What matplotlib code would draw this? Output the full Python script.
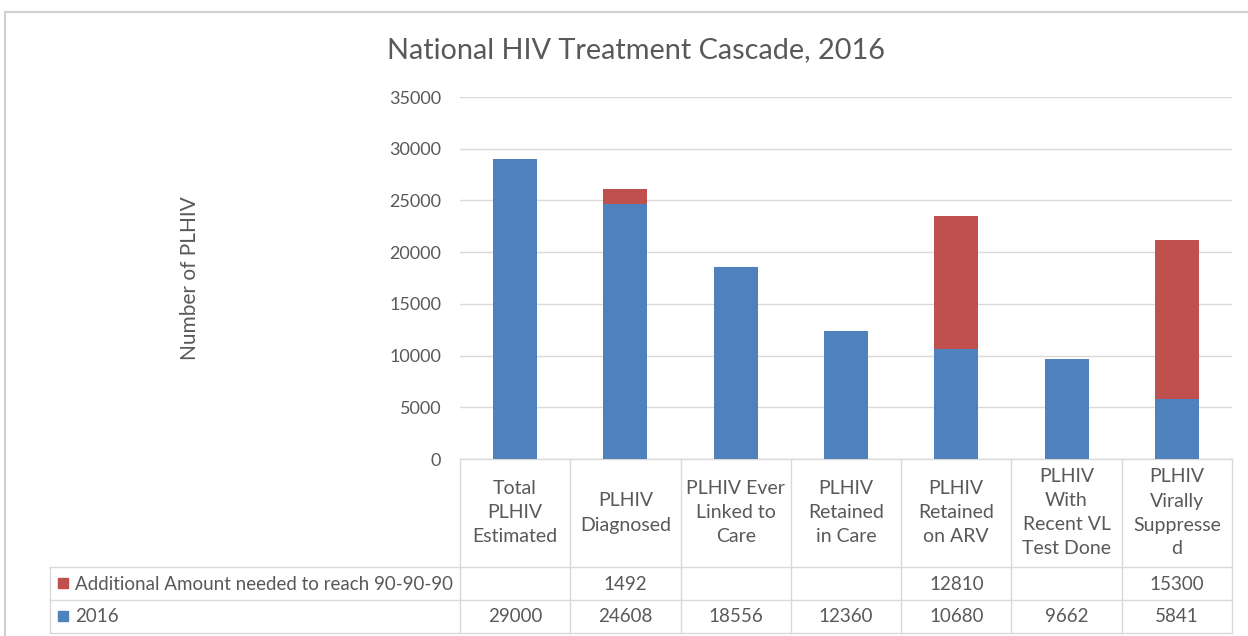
import matplotlib.pyplot as plt
import matplotlib.transforms as mtransforms
from matplotlib.patches import Rectangle

categories = [
    "Total\nPLHIV\nEstimated",
    "PLHIV\nDiagnosed",
    "PLHIV Ever\nLinked to\nCare",
    "PLHIV\nRetained\nin Care",
    "PLHIV\nRetained\non ARV",
    "PLHIV\nWith\nRecent VL\nTest Done",
    "PLHIV\nVirally\nSuppresse\nd",
]
values_2016 = [29000, 24608, 18556, 12360, 10680, 9662, 5841]
additional = [None, 1492, None, None, 12810, None, 15300]
series_names = ["Additional Amount needed to reach 90-90-90", "2016"]
yticks = [0, 5000, 10000, 15000, 20000, 25000, 30000, 35000]

blue = "#4F81BD"
red = "#C0504D"
txt = "#595959"
grid = "#D9D9D9"

plt.rcParams["font.family"] = ["Lato", "DejaVu Sans"]

W, H = 1248, 636
fig = plt.figure(figsize=(W / 100, H / 100), dpi=100)

# overlay in pixel coordinates for border and table frame
ov = fig.add_axes([0, 0, 1, 1])
ov.set_xlim(0, W)
ov.set_ylim(H, 0)
ov.axis("off")

ax = fig.add_axes([460 / W, 1 - 459 / H, 772 / W, 362 / H])
x = list(range(len(categories)))
add_vals = [v if v is not None else 0 for v in additional]
ax.bar(x, values_2016, width=0.4, color=blue, zorder=3)
ax.bar(x, add_vals, width=0.4, bottom=values_2016, color=red, zorder=3)
ax.set_xlim(-0.5, len(categories) - 0.5)
ax.set_ylim(0, 35000)
ax.set_yticks(yticks)
ax.set_yticklabels([str(t) for t in yticks], fontsize=13, color=txt)
ax.tick_params(axis="y", length=0, pad=13.5)
ax.tick_params(axis="x", length=0, labelbottom=False)
ax.grid(axis="y", color=grid, linewidth=1, zorder=0)
for s in ax.spines.values():
    s.set_visible(False)
ax.set_ylabel("Number of PLHIV", fontsize=15, color=txt)
ax.yaxis.set_label_coords(-0.337, 0.5)
ax.patch.set_alpha(0)

fig.text(636 / W, 1 - 50 / H, "National HIV Treatment Cascade, 2016",
         ha="center", va="center", fontsize=20.8, color=txt)

# outer chart border
ov.plot([5, W], [12, 12], color="#D0D0D0", lw=1.5)
ov.plot([5, 5], [12, H], color="#D0D0D0", lw=1.5)

# data table
tr = mtransforms.blended_transform_factory(ax.transData, ov.transData)
edges = [i - 0.5 for i in range(len(categories) + 1)]
for e in edges:
    ax.plot([e, e], [459, 633], color=grid, lw=1, transform=tr, clip_on=False)
ax.plot([edges[0], edges[-1]], [459, 459], color=grid, lw=1, transform=tr, clip_on=False)
for yy in [567, 600, 633]:
    ov.plot([50, 1232], [yy, yy], color=grid, lw=1)
ov.plot([50, 50], [567, 633], color=grid, lw=1)

for i, c in enumerate(categories):
    ax.text(i, 513, c, transform=tr, ha="center", va="center", fontsize=14,
            color=txt, linespacing=1.5)
    if additional[i] is not None:
        ax.text(i, 584, str(additional[i]), transform=tr, ha="center", va="center",
                fontsize=13.5, color=txt)
    ax.text(i, 616.5, str(values_2016[i]), transform=tr, ha="center", va="center",
            fontsize=13.5, color=txt)

for name, col, yy in zip(series_names, [red, blue], [583, 616]):
    ov.add_patch(Rectangle((58, yy - 5), 10, 10, color=col))
    ov.text(75, yy + 1, name, ha="left", va="center", fontsize=13.5, color=txt)

fig.savefig("out.png", dpi=100)
